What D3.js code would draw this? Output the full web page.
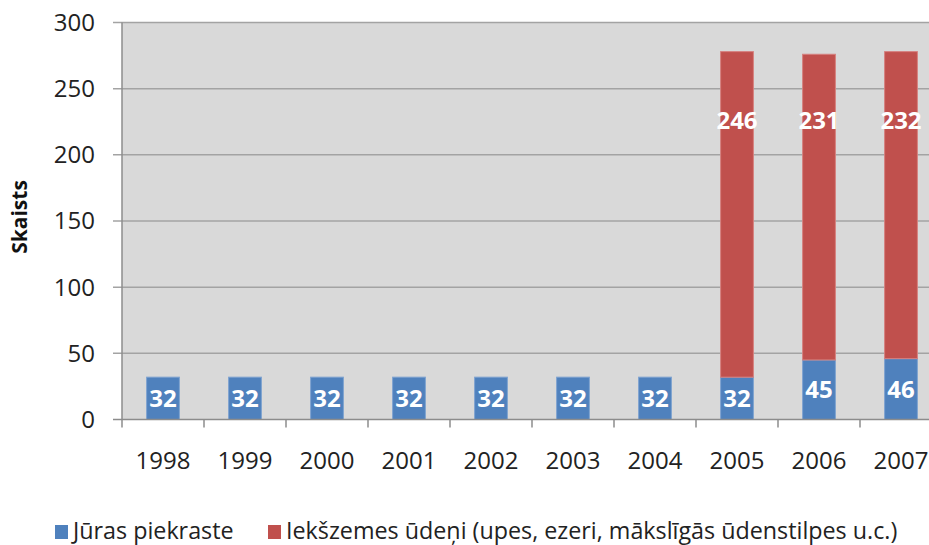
<!DOCTYPE html>
<html>
<head>
<meta charset="utf-8">
<script src="https://cdn.jsdelivr.net/npm/d3@7"></script>
<style>
  html, body { margin: 0; padding: 0; background: #fff; overflow: hidden; }
  text { font-family: "Open Sans", "Noto Sans", sans-serif; }
</style>
</head>
<body>
<div id="chart"></div>
<script>
// data
const years = ["1998", "1999", "2000", "2001", "2002", "2003", "2004", "2005", "2006", "2007"];
const coast = [32, 32, 32, 32, 32, 32, 32, 32, 45, 46];
const inland = [0, 0, 0, 0, 0, 0, 0, 246, 231, 232];
const seriesNames = ["Jūras piekraste", "Iekšzemes ūdeņi (upes, ezeri, mākslīgās ūdenstilpes u.c.)"];
const colors = ["#4F81BD", "#C0504D"];
const yTicks = [0, 50, 100, 150, 200, 250, 300];
const inlandLabelAt = 226; // labels of the red bars sit at this height

const width = 929, height = 545;
const plotLeft = 122, plotRight = 942, plotTop = 22.5, plotBottom = 419.5;

const svg = d3.select("#chart").append("svg")
    .attr("width", width)
    .attr("height", height);

const x = d3.scaleBand()
    .domain(years)
    .range([plotLeft, plotRight])
    .paddingInner(0.6)
    .paddingOuter(0.3);

const y = d3.scaleLinear()
    .domain([0, 300])
    .range([plotBottom, plotTop]);

// plot area
svg.append("rect")
    .attr("x", plotLeft).attr("y", plotTop)
    .attr("width", plotRight - plotLeft).attr("height", plotBottom - plotTop)
    .attr("fill", "#D9D9D9");

// gridlines + y ticks
svg.append("g").selectAll("line")
    .data(yTicks.filter(d => d > 0))
    .enter().append("line")
    .attr("x1", plotLeft - 9).attr("x2", plotRight)
    .attr("y1", d => y(d)).attr("y2", d => y(d))
    .attr("stroke", "#A3A3A3")
    .attr("stroke-width", 1.5);

svg.append("g").selectAll("text")
    .data(yTicks)
    .enter().append("text")
    .attr("x", 95)
    .attr("y", d => y(d))
    .attr("dy", "0.35em")
    .attr("text-anchor", "end")
    .attr("font-size", 24)
    .attr("fill", "#222")
    .text(d => d);

// stacked bars
const stack = years.map((yr, i) => ({year: yr, coast: coast[i], inland: inland[i]}));

const bars = svg.append("g");
bars.selectAll(".coast")
    .data(stack)
    .enter().append("rect")
    .attr("class", "coast")
    .attr("x", d => x(d.year))
    .attr("width", x.bandwidth())
    .attr("y", d => y(d.coast))
    .attr("height", d => y(0) - y(d.coast))
    .attr("fill", colors[0])
    .attr("stroke", "#7FA3D0")
    .attr("stroke-width", 1);

bars.selectAll(".inland")
    .data(stack.filter(d => d.inland > 0))
    .enter().append("rect")
    .attr("class", "inland")
    .attr("x", d => x(d.year))
    .attr("width", x.bandwidth())
    .attr("y", d => y(d.coast + d.inland))
    .attr("height", d => y(d.coast) - y(d.coast + d.inland))
    .attr("fill", colors[1])
    .attr("stroke", "#D6817F")
    .attr("stroke-width", 1);

// axes lines
svg.append("line")
    .attr("x1", plotLeft).attr("x2", plotLeft)
    .attr("y1", plotTop).attr("y2", plotBottom)
    .attr("stroke", "#8C8C8C").attr("stroke-width", 1.5);
svg.append("line")
    .attr("x1", plotLeft - 9).attr("x2", plotRight)
    .attr("y1", plotBottom).attr("y2", plotBottom)
    .attr("stroke", "#8C8C8C").attr("stroke-width", 1.5);

// category boundary ticks
const step = x.step();
const bounds = d3.range(years.length + 1).map(i => plotLeft + i * step);
svg.append("g").selectAll("line")
    .data(bounds)
    .enter().append("line")
    .attr("x1", d => d).attr("x2", d => d)
    .attr("y1", plotBottom).attr("y2", plotBottom + 8)
    .attr("stroke", "#8C8C8C").attr("stroke-width", 1.5);

// year labels
svg.append("g").selectAll("text")
    .data(years)
    .enter().append("text")
    .attr("x", d => x(d) + x.bandwidth() / 2)
    .attr("y", 461)
    .attr("dy", "0.35em")
    .attr("text-anchor", "middle")
    .attr("font-size", 24)
    .attr("fill", "#222")
    .text(d => d);

// bar labels
svg.append("g").selectAll("text")
    .data(stack)
    .enter().append("text")
    .attr("x", d => x(d.year) + x.bandwidth() / 2)
    .attr("y", d => y(d.coast / 2))
    .attr("dy", "0.36em")
    .attr("text-anchor", "middle")
    .attr("font-size", 24)
    .attr("font-weight", "bold")
    .attr("fill", "#fff")
    .text(d => d.coast);

svg.append("g").selectAll("text")
    .data(stack.filter(d => d.inland > 0))
    .enter().append("text")
    .attr("x", d => x(d.year) + x.bandwidth() / 2)
    .attr("y", y(inlandLabelAt))
    .attr("dy", "0.36em")
    .attr("text-anchor", "middle")
    .attr("font-size", 24)
    .attr("font-weight", "bold")
    .attr("fill", "#fff")
    .text(d => d.inland);

// y axis title
svg.append("text")
    .attr("transform", "translate(20," + 217 + ") rotate(-90)")
    .attr("dy", "0.35em")
    .attr("text-anchor", "middle")
    .attr("font-size", 21)
    .attr("font-weight", "bold")
    .attr("fill", "#111")
    .text("Skaists");

// legend (sits right at the bottom edge, as in the original)
const legendX = [55, 268];
const legend = svg.append("g");
legend.selectAll("rect")
    .data(seriesNames)
    .enter().append("rect")
    .attr("x", (d, i) => legendX[i])
    .attr("y", 525)
    .attr("width", 13).attr("height", 14)
    .attr("fill", (d, i) => colors[i]);
legend.selectAll("text")
    .data(seriesNames)
    .enter().append("text")
    .attr("x", (d, i) => legendX[i] + 18)
    .attr("y", 539)
    .attr("font-size", 23.3)
    .attr("fill", "#222")
    .text(d => d);
</script>
</body>
</html>
